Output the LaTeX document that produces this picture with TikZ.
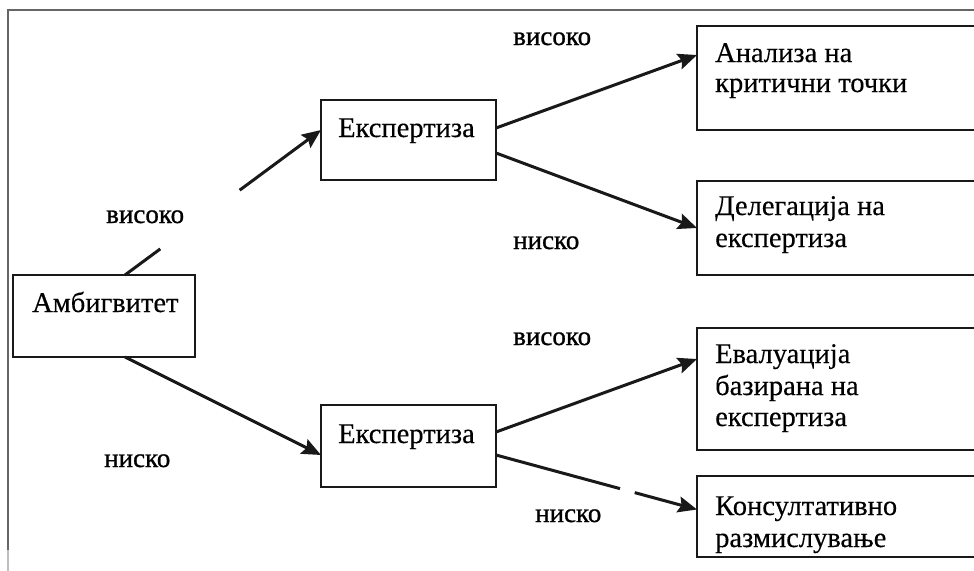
\documentclass[tikz,border=0pt]{standalone}
\usepackage{fontspec}
\setmainfont{Liberation Serif}
\newfontfamily\serifcyr[FakeBold=0.3]{Liberation Serif}
\newfontfamily\serifcyrb[FakeBold=0.9]{Liberation Serif}
\usetikzlibrary{arrows.meta,calc}
\begin{document}
\begin{tikzpicture}[x=1pt,y=-1pt,
  box/.style={draw=black!90,line width=1.8pt,inner sep=0pt,outer sep=0pt},
  txt/.style={inner sep=0pt,anchor=base west,font=\serifcyr\fontsize{28.5}{31}\selectfont},
  lbl/.style={inner sep=0pt,anchor=base west,font=\serifcyrb\fontsize{27}{30}\selectfont},
  conn/.style={draw=black!90,line width=3pt},
  arr/.style={conn,-{Stealth[length=19pt,width=16pt,inset=3pt]}},
  frame/.style={draw=black!60,line width=1.6pt}]
\useasboundingbox (0,0) rectangle (974,570);
\clip (0,0) rectangle (974,570);
% frame
\coordinate (f1) at (980,10);
\coordinate (f2) at (8,10);
\coordinate (f3) at (8,550);
\coordinate (f4) at (8,572);
\draw[frame] (f1) -- (f2) -- (f3);
\draw[draw=black!25,line width=1.6pt] (f3) -- (f4);
% boxes
\node[box,minimum width=182,minimum height=82] (amb) at (104,316) {};
\node[box,minimum width=175,minimum height=80] (e1) at (408.5,140) {};
\node[box,minimum width=175,minimum height=82] (e2) at (408.5,446) {};
\node[box,minimum width=303,minimum height=104] (r1) at (848.5,78) {};
\node[box,minimum width=303,minimum height=94] (r2) at (848.5,228) {};
\node[box,minimum width=303,minimum height=122] (r3) at (848.5,389) {};
\node[box,minimum width=303,minimum height=81] (r4) at (848.5,516.5) {};
% box texts
\node[txt] (ambt) at (32,312) {Амбигвитет};
\node[txt] (e1t) at (338,137) {Експертиза};
\node[txt] (e2t) at (338,443) {Експертиза};
\node[txt] (r1a) at (715,62) {Анализа на};
\node[txt] (r1b) at (715,92) {критични точки};
\node[txt] (r2a) at (715,215) {Делегација на};
\node[txt] (r2b) at (715,247) {експертиза};
\node[txt] (r3a) at (715,363) {Евалуација};
\node[txt] (r3b) at (715,395) {базирана на};
\node[txt] (r3c) at (715,426) {експертиза};
\node[txt] (r4a) at (715,515) {Консултативно};
\node[txt] (r4b) at (715,547) {размислување};
% connector end points
\coordinate (a1s) at ($(amb.north west)+(112,0)$);
\coordinate (a1e) at ($(e1.west)+(0,-10)$);
\coordinate (a2s) at ($(amb.south west)+(112,0)$);
\coordinate (a2e) at ($(e2.west)+(0,9)$);
\coordinate (a3s) at ($(e1.east)+(0,-12)$);
\coordinate (a3e) at ($(r1.west)+(0,-23)$);
\coordinate (a4s) at ($(e1.east)+(0,13)$);
\coordinate (a4e) at (r2.west);
\coordinate (a5s) at ($(e2.east)+(0,-14)$);
\coordinate (a5e) at ($(r3.west)+(0,-30)$);
\coordinate (a6s) at ($(e2.east)+(0,9)$);
\coordinate (a6e) at ($(r4.west)+(0,-7)$);
% connectors
\draw[conn] (a1s) -- ($(a1s)!0.18!(a1e)$);
\draw[arr] ($(a1s)!0.585!(a1e)$) -- (a1e);
\draw[arr] (a2s) -- (a2e);
\draw[arr] (a3s) -- (a3e);
\draw[arr] (a4s) -- (a4e);
\draw[arr] (a5s) -- (a5e);
\draw[conn] (a6s) -- ($(a6s)!0.617!(a6e)$);
\draw[arr] ($(a6s)!0.69!(a6e)$) -- (a6e);
% labels
\node[lbl] (l1) at (513,45) {високо};
\node[lbl] (l2) at (513,249) {ниско};
\node[lbl] (l3) at (106,223) {високо};
\node[lbl] (l4) at (104,467) {ниско};
\node[lbl] (l5) at (513,345) {високо};
\node[lbl] (l6) at (535,522) {ниско};
\end{tikzpicture}
\end{document}
